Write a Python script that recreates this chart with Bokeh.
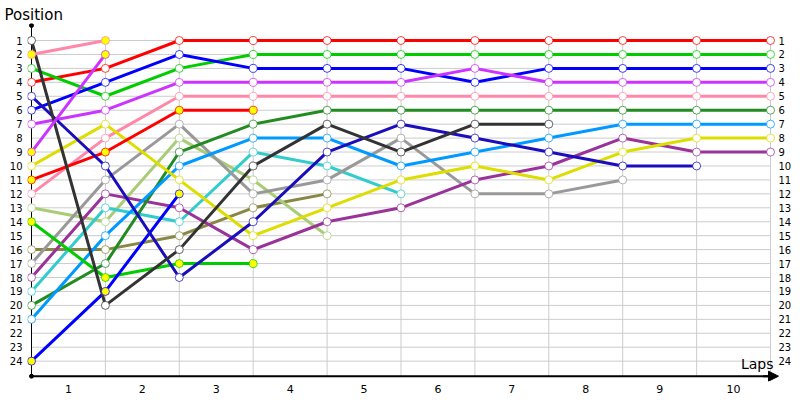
from bokeh.plotting import figure
from bokeh.models import Range1d, FixedTicker, LinearAxis, Label, Arrow, NormalHead, Title
from bokeh.embed import file_html
from bokeh.resources import INLINE

# ---- data ----
laps = list(range(0, 11))            # 0 = start grid, then laps 1..10
lap_labels = [str(i) for i in range(1, 11)]
positions = list(range(1, 25))

red = [4, 3, 1, 1, 1, 1, 1, 1, 1, 1, 1]
green = [3, 5, 3, 2, 2, 2, 2, 2, 2, 2, 2]
blue = [6, 4, 2, 3, 3, 3, 4, 3, 3, 3, 3]
violet = [7, 6, 4, 4, 4, 4, 3, 4, 4, 4, 4]
pink = [12, 8, 5, 5, 5, 5, 5, 5, 5, 5, 5]
dark_green = [20, 17, 9, 7, 6, 6, 6, 6, 6, 6, 6]
light_blue = [21, 15, 10, 8, 8, 10, 9, 8, 7, 7, 7]
yellow = [10, 7, 11, 15, 13, 11, 10, 11, 9, 8, 8]
purple = [18, 12, 13, 16, 14, 13, 11, 10, 8, 9, 9]
navy = [5, 10, 18, 14, 9, 7, 8, 9, 10, 10]
black = [1, 20, 16, 10, 7, 9, 7, 7]
gray = [17, 11, 7, 12, 11, 8, 12, 12, 11]
cyan = [19, 13, 14, 9, 10, 12]
light_green = [13, 14, 8, 11, 15]
olive = [16, 16, 15, 13, 12]
red_b = [11, 9, 6, 6]
green_b = [14, 18, 17, 17]
blue_b = [24, 19, 12]
pink_b = [2, 1]
violet_b = [9, 2]

# (values, colour, retired-marker) in drawing order
series = [
    (olive, "#888844", False),
    (light_green, "#aacc77", False),
    (cyan, "#33cccc", False),
    (gray, "#999999", False),
    (purple, "#993399", False),
    (dark_green, "#228b22", False),
    (light_blue, "#0099ff", False),
    (pink, "#ff88aa", False),
    (red, "#ff0000", False),
    (green, "#00cc00", False),
    (blue, "#0000ff", False),
    (violet, "#cc33ff", False),
    (yellow, "#dddd00", False),
    (red_b, "#ff0000", True),
    (green_b, "#00cc00", True),
    (blue_b, "#0000ff", True),
    (navy, "#1a0dbb", False),
    (black, "#333333", False),
    (pink_b, "#ff88aa", True),
    (violet_b, "#cc33ff", True),
]

FONT = "DejaVu Sans"
AX_TOP, AX_BOT = -0.08, 25.08          # extent of the drawn axes (in positions)
Y_TOP, Y_BOT = -0.22, 25.46            # visible range
X_START, X_END = -0.054, 10.108

p = figure(width=800, height=400, output_backend="svg", toolbar_location=None,
           x_range=Range1d(X_START, X_END), y_range=Range1d(Y_BOT, Y_TOP),
           min_border_left=27, min_border_right=22, min_border_top=23,
           min_border_bottom=19)
p.outline_line_color = None
p.xgrid.visible = False
p.ygrid.visible = False
p.background_fill_color = "white"
p.border_fill_color = "white"

# title "Position" above the frame
p.title = Title(text="Position", align="left", offset=-23, standoff=0,
                text_font=FONT, text_font_size="15px", text_font_style="normal",
                text_color="black")

# left axis (labels only; line drawn below as glyph)
ya = p.yaxis[0]
ya.ticker = FixedTicker(ticks=positions)
ya.major_tick_line_color = None
ya.minor_tick_line_color = None
ya.major_tick_out = 0
ya.major_tick_in = 0
ya.minor_tick_out = 0
ya.axis_line_color = None
ya.major_label_standoff = 5
ya.major_label_text_font = FONT
ya.major_label_text_font_size = "10px"
ya.major_label_text_color = "black"

# bottom axis, labels centred between lap lines
xa = p.xaxis[0]
tick_pos = [i + 0.5 for i in range(10)]
xa.ticker = FixedTicker(ticks=tick_pos)
xa.major_label_overrides = {t: lab for t, lab in zip(tick_pos, lap_labels)}
xa.major_tick_line_color = None
xa.minor_tick_line_color = None
xa.major_tick_out = 0
xa.major_tick_in = 0
xa.minor_tick_out = 0
xa.axis_line_color = None
xa.major_label_standoff = 3
xa.major_label_text_font = FONT
xa.major_label_text_font_size = "11px"
xa.major_label_text_color = "black"

# right axis (labels only)
ra = LinearAxis(ticker=FixedTicker(ticks=positions))
ra.axis_line_color = None
ra.major_tick_line_color = None
ra.minor_tick_line_color = None
ra.major_tick_out = 0
ra.major_tick_in = 0
ra.minor_tick_out = 0
ra.major_label_standoff = 0
ra.major_label_text_font = FONT
ra.major_label_text_font_size = "10px"
ra.major_label_text_color = "black"
p.add_layout(ra, "right")

# grid lines
p.segment(x0=[0] * len(positions), y0=positions, x1=[laps[-1]] * len(positions), y1=positions,
          line_color="#cccccc", line_width=1)
vx = laps[1:]
p.segment(x0=vx, y0=[positions[0]] * len(vx), x1=vx, y1=[AX_BOT] * len(vx),
          line_color="#cccccc", line_width=1)

# axis lines
p.segment(x0=[0], y0=[AX_TOP], x1=[0], y1=[AX_BOT], line_color="black", line_width=1)
p.segment(x0=[0], y0=[AX_BOT], x1=[laps[-1]], y1=[AX_BOT], line_color="black", line_width=2)
p.scatter([0, 0], [AX_TOP, AX_BOT], size=4, marker="circle", fill_color="black",
          line_color="black")

# race lines
for vals, col, retired in series:
    p.line(laps[:len(vals)], vals, line_color=col, line_width=3)
for vals, col, retired in series:
    p.scatter(laps[:len(vals)], vals, size=8, marker="circle",
              fill_color="#ffff00" if retired else "white",
              line_color=col, line_alpha=0.75, line_width=1)

# axis arrow on x
p.add_layout(Arrow(end=NormalHead(size=10, fill_color="black", line_color="black"),
                   x_start=laps[-1] - 0.1, y_start=AX_BOT, x_end=X_END, y_end=AX_BOT,
                   line_color="black", line_width=2))

p.add_layout(Label(x=laps[-1], y=AX_BOT, x_offset=3, y_offset=12, text="Laps", text_font=FONT,
                   text_font_size="14px", text_baseline="alphabetic", text_align="right",
                   text_color="black"))

open("out.html", "w").write(file_html(p, INLINE))
